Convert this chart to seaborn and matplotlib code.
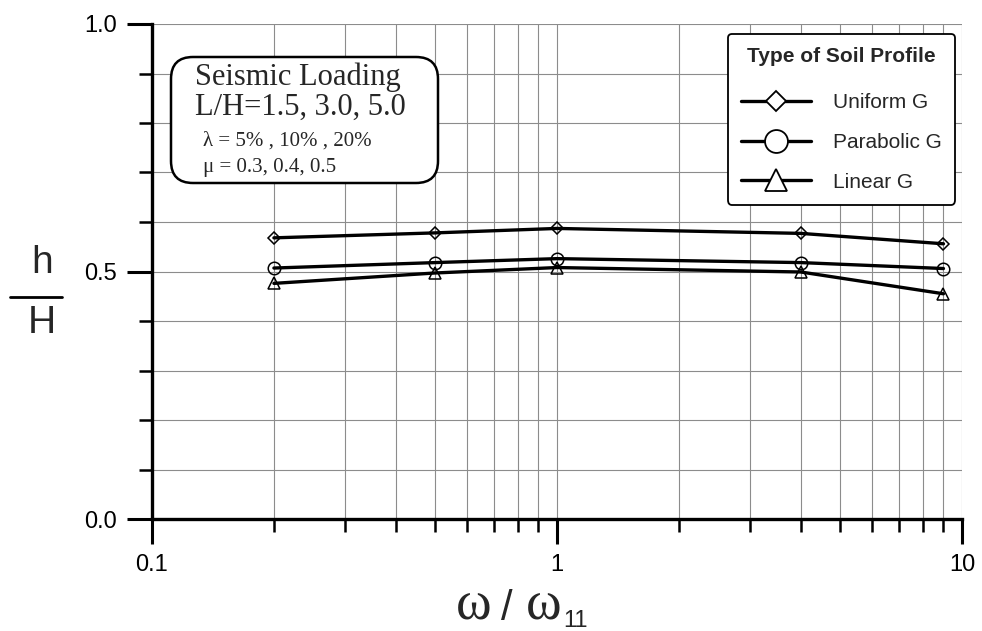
import matplotlib
matplotlib.use("Agg")
import matplotlib.pyplot as plt
import seaborn as sns
import pandas as pd
from matplotlib.lines import Line2D
from matplotlib.patches import FancyBboxPatch
from matplotlib.ticker import LogLocator, MultipleLocator, FixedLocator, NullFormatter

sns.set_style("white")
plt.rcParams['font.family'] = ['Liberation Sans', 'DejaVu Sans']

freq_ratio = [0.2, 0.5, 1.0, 4.0, 9.0]
uniform_g = [0.568, 0.578, 0.587, 0.577, 0.556]
parabolic_g = [0.507, 0.518, 0.526, 0.518, 0.506]
linear_g = [0.476, 0.497, 0.508, 0.499, 0.455]
series_names = ["Uniform G", "Parabolic G", "Linear G"]
x_ticklabels = ["0.1", "1", "10"]
y_ticklabels = ["0.0", "0.5", "1.0"]

df = pd.DataFrame({
    "x": freq_ratio * 3,
    "y": uniform_g + parabolic_g + linear_g,
    "profile": [series_names[0]] * 5 + [series_names[1]] * 5 + [series_names[2]] * 5,
})

W, H = 982, 631
fig = plt.figure(figsize=(W / 100, H / 100), dpi=100)
ax = fig.add_axes([152 / W, 1 - 519 / H, (962 - 152) / W, (519 - 24) / H])

plot_markers = {"Uniform G": ("D", 6.5), "Parabolic G": ("o", 9), "Linear G": ("^", 9)}
leg_markers = {"Uniform G": ("D", 10.5), "Parabolic G": ("o", 16.5), "Linear G": ("^", 16)}
for name in series_names:
    sub = df[df["profile"] == name]
    m, ms = plot_markers[name]
    sns.lineplot(data=sub, x="x", y="y", ax=ax, color="black", lw=2.4,
                 marker=m, markersize=ms, markerfacecolor="none",
                 markeredgecolor="black", markeredgewidth=1.1, legend=False, zorder=3)

ax.set_xscale("log")
ax.set_xlim(0.1, 10)
ax.set_ylim(0, 1.0)
ax.xaxis.set_major_locator(FixedLocator([0.1, 1, 10]))
ax.set_xticklabels(x_ticklabels)
ax.xaxis.set_minor_locator(LogLocator(base=10, subs=range(2, 10)))
ax.xaxis.set_minor_formatter(NullFormatter())
ax.yaxis.set_major_locator(FixedLocator([0.0, 0.5, 1.0]))
ax.set_yticklabels(y_ticklabels)
ax.yaxis.set_minor_locator(MultipleLocator(0.1))

ax.grid(True, which="both", color="#8c8c8c", lw=0.8)
for s in ["top", "right"]:
    ax.spines[s].set_visible(False)
for s in ["left", "bottom"]:
    ax.spines[s].set_linewidth(2.4)
    ax.spines[s].set_color("black")

ax.tick_params(which="major", direction="out", length=18, width=2.2, labelsize=17, pad=7,
               left=True, bottom=True, labelcolor="black", color="black")
ax.tick_params(which="minor", direction="out", length=9.5, width=1.8, left=True, bottom=True,
               color="black")
ax.set_xlabel("")
ax.set_ylabel("")

# y label as fraction h / H
fig.text(42 / W, 1 - 273 / H, "h", fontsize=28, ha="center", va="baseline")
fig.text(42 / W, 1 - 333 / H, "H", fontsize=28, ha="center", va="baseline")
fig.add_artist(Line2D([10 / W, 62 / W], [1 - 297 / H, 1 - 297 / H], transform=fig.transFigure,
                      color="black", lw=2.0))

# x label
serif = ["Liberation Serif", "DejaVu Serif"]
fig.text(456 / W, 1 - 620 / H, "ω", fontsize=39, ha="left", va="baseline", family=serif)
fig.text(501 / W, 1 - 620 / H, "/", fontsize=30, ha="left", va="baseline")
fig.text(526 / W, 1 - 620 / H, "ω", fontsize=39, ha="left", va="baseline", family=serif)
fig.text(563 / W, 1 - 627 / H, "11", fontsize=17, ha="left", va="baseline")

# info box
fig.add_artist(FancyBboxPatch((171, H - 183), 267, 126,
                              boxstyle="round,pad=0,rounding_size=22", transform=None,
                              fc="white", ec="black", lw=1.8, zorder=5))
fig.text(195 / W, 1 - 85 / H, "Seismic Loading", fontsize=22, family=serif,
         ha="left", va="baseline", zorder=6)
fig.text(195 / W, 1 - 115 / H, "L/H=1.5, 3.0, 5.0", fontsize=22, family=serif,
         ha="left", va="baseline", zorder=6)
fig.text(203 / W, 1 - 146 / H, "λ = 5% , 10% , 20%", fontsize=15, family=serif,
         ha="left", va="baseline", zorder=6)
fig.text(203 / W, 1 - 172 / H, "μ = 0.3, 0.4, 0.5", fontsize=15, family=serif,
         ha="left", va="baseline", zorder=6)

# legend
handles = [Line2D([0], [0], color="black", lw=2.4, marker=leg_markers[n][0],
                  markersize=leg_markers[n][1], markerfacecolor="white",
                  markeredgecolor="black", markeredgewidth=1.3) for n in series_names]
leg = ax.legend(handles, series_names, title="Type of Soil Profile", loc="upper right",
                bbox_to_anchor=(955 / W, 1 - 34 / H), bbox_transform=fig.transFigure,
                fontsize=15, title_fontsize=15,
                handlelength=3.4, handletextpad=1.05, labelspacing=1.0, borderpad=0.62,
                borderaxespad=0, frameon=True, fancybox=True, edgecolor="black", framealpha=1)
leg.get_title().set_fontweight("bold")
leg.get_frame().set_linewidth(1.3)
leg.set_zorder(6)
# extra gap between the legend title and its entries
leg._legend_box.sep = 19.5

fig.savefig("out.png", dpi=100)
